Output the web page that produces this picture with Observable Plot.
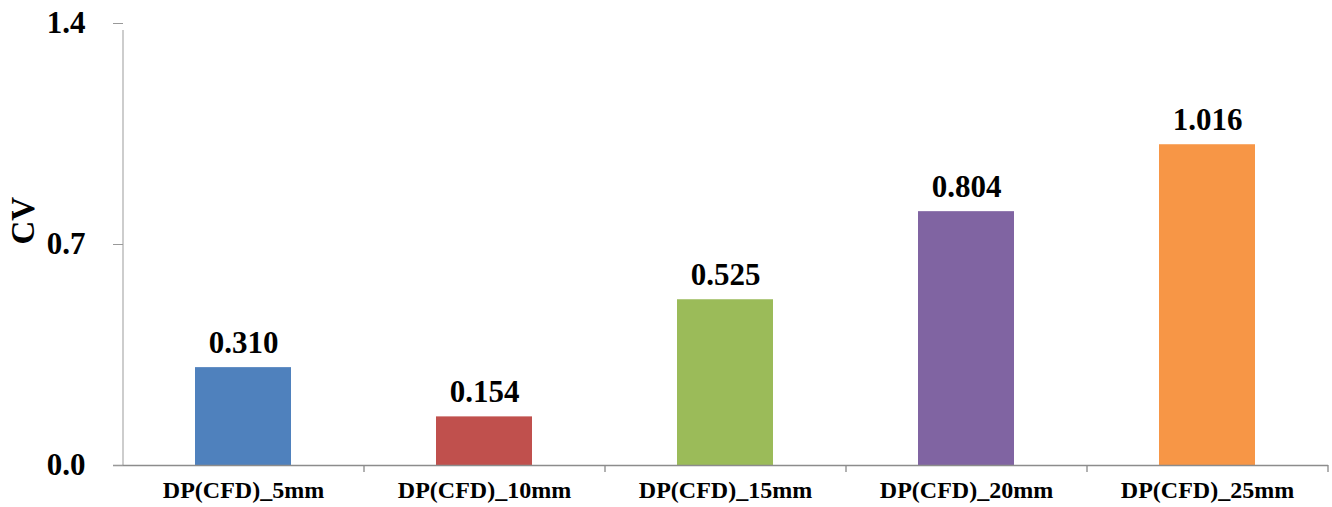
<!DOCTYPE html>
<html>
<head>
<meta charset="utf-8">
<script src="https://cdn.jsdelivr.net/npm/d3@7"></script>
<script src="https://cdn.jsdelivr.net/npm/@observablehq/plot@0.6"></script>
<style>
  html, body { margin: 0; padding: 0; background: #fff; }
  #chart svg, #chart svg text {
    font-family: "Liberation Serif", "Times New Roman", serif !important;
    font-weight: bold;
  }
</style>
</head>
<body>
<div id="chart"></div>
<script>
// Coefficient of variation for each DP(CFD) spacing
const categories = ["DP(CFD)_5mm", "DP(CFD)_10mm", "DP(CFD)_15mm", "DP(CFD)_20mm", "DP(CFD)_25mm"];
const cvValues = [0.310, 0.154, 0.525, 0.804, 1.016];
const barColors = ["#4F81BD", "#C0504D", "#9BBB59", "#8064A2", "#F79646"];
const yTicks = [0, 0.7, 1.4];

const data = categories.map((c, i) => ({category: c, cv: cvValues[i], color: barColors[i]}));

const width = 1332, height = 507;
const margin = {top: 23, right: 4, bottom: 42, left: 123};
const bandWidth = (width - margin.left - margin.right) / categories.length;
const font = "Liberation Serif";

const chart = Plot.plot({
  width, height,
  marginTop: margin.top,
  marginRight: margin.right,
  marginBottom: margin.bottom,
  marginLeft: margin.left,
  style: {fontFamily: font, fontWeight: "bold", color: "#000", background: "#fff"},
  x: {domain: categories, paddingInner: 0.6, paddingOuter: 0.3, align: 0.5},
  y: {domain: [0, 1.4]},
  marks: [
    Plot.barY(data, {x: "category", y: "cv", fill: "color"}),
    // value labels above bars
    Plot.text(data, {
      x: "category", y: "cv", text: d => d.cv.toFixed(3),
      lineAnchor: "bottom", dy: -15, fontSize: 31, fontFamily: font, fill: "#000"
    }),
    // vertical axis line, extending slightly below the baseline
    Plot.ruleX([categories[0]], {
      x: d => d, y1: () => 0, y2: () => 1.4, dx: -bandWidth / 2,
      insetBottom: -7, stroke: "#bdbdbd", strokeWidth: 1.5
    }),
    // separators between categories
    Plot.ruleX(categories, {
      x: d => d, y1: () => 0, y2: () => 0, dx: bandWidth / 2,
      insetBottom: -7, stroke: "#999", strokeWidth: 1.5
    }),
    // baseline
    Plot.ruleY([0], {insetLeft: -10, stroke: "#8c8c8c", strokeWidth: 1.5}),
    Plot.axisY({
      ticks: yTicks, tickFormat: d3.format(".1f"), tickSize: 10, tickPadding: 28,
      fontSize: 31, fontFamily: font, stroke: "#999", label: null
    }),
    Plot.axisX({tickSize: 0, tickPadding: 15, fontSize: 24, fontFamily: font, label: null}),
    // y-axis title
    Plot.text(["CV"], {
      frameAnchor: "left", dx: -100, rotate: -90, fontSize: 33, fontFamily: font, fill: "#000"
    })
  ]
});

document.getElementById("chart").appendChild(chart);
</script>
</body>
</html>
